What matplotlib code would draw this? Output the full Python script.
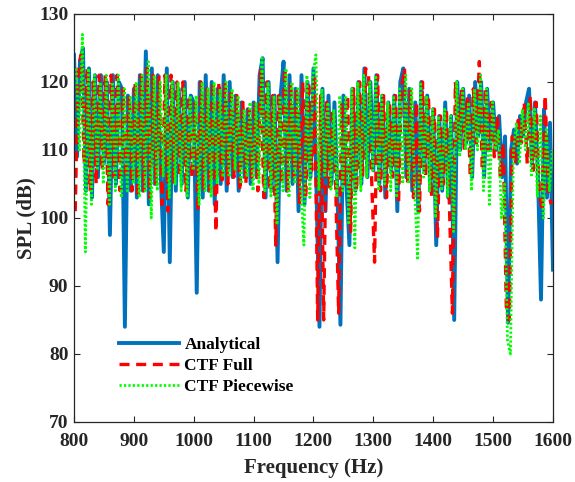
import numpy as np
import matplotlib
matplotlib.use("Agg")
import matplotlib.pyplot as plt

# Frecuencias (Hz) y SPL (dB)
freq_analitico = np.arange(800, 1601, 5)
spl_analitico = [
    124, 109, 123, 125, 104, 122, 103, 121, 106, 121,
    108, 120, 97.5, 121, 105, 120, 119, 84, 118, 104,
    119, 103, 121, 104, 124.5, 102, 122, 105, 121, 106,
    95, 122, 93.5, 120, 104, 119, 105, 120, 103, 118,
    117, 89, 120, 103, 121, 104, 120, 102, 119, 105,
    121, 104, 120, 106, 118, 104, 117, 106, 116, 105,
    117, 106, 121, 123.5, 103, 120, 104, 118, 93.5, 118,
    123, 104, 121, 105, 119, 101, 121, 102, 120, 106,
    122, 104, 84, 119, 101, 118, 105, 117, 104, 84.3,
    118, 105, 96, 119, 104, 120, 105, 122, 106, 120,
    107, 121, 105, 118, 103, 117, 107, 118, 101, 120,
    122, 106, 119, 104, 117, 101, 120, 107, 118, 104,
    116, 96, 115, 104, 117, 103, 115, 85, 120, 110,
    119, 111, 118, 106, 120, 112, 120, 106, 119, 110,
    117, 110, 115, 106, 112, 84.6, 110, 113, 108, 115,
    112, 117, 119, 108, 117, 106, 88, 116, 103, 114,
    92.4,
]

freq_ctf_full = np.arange(802, 1600, 5)
spl_ctf_full = [
    101, 122, 124, 108, 122, 104, 120, 105, 121, 107,
    121, 102, 121, 106, 121, 104, 119, 106, 118, 104,
    120, 103, 121, 104, 122, 103, 121, 105, 121, 102,
    121, 101, 121, 105, 120, 106, 120, 104, 118, 106,
    117, 101, 120, 104, 119, 104, 120, 98, 120, 105,
    120, 105, 119, 106, 118, 104, 117, 105, 116, 106,
    117, 104, 122, 103, 120, 104, 118, 96, 118, 105,
    122, 104, 120, 106, 119, 102, 120, 103, 120, 107,
    121, 85, 118, 85, 117, 104, 116, 105, 86, 117,
    105, 118, 98, 119, 104, 120, 106, 122, 121, 106,
    93.5, 121, 104, 118, 103, 117, 106, 118, 102, 119,
    122, 105, 119, 103, 117, 101, 120, 106, 118, 103,
    116, 97, 115, 105, 116, 102, 86, 120, 111, 119,
    110, 118, 106, 119, 111, 123, 107, 119, 110, 117,
    109, 115, 106, 111, 87, 85, 112, 108, 115, 111,
    117, 108, 118, 107, 117, 104, 101, 118, 104, 102,
]

freq_ctf_piecewise = np.arange(804, 1600, 5)
spl_ctf_piecewise = [
    122, 110, 127, 95, 122, 102, 121, 107, 120, 105,
    121, 102, 120, 104, 121, 103, 119, 104, 118, 105,
    120, 103, 121, 104, 123, 100, 121, 104, 120, 106,
    121, 103, 120, 105, 120, 104, 119, 103, 118, 107,
    118, 102, 120, 104, 119, 103, 120, 105, 119, 106,
    120, 106, 119, 107, 118, 105, 116, 106, 117, 104,
    117, 105, 123.5, 104, 120, 103, 118, 99, 118, 104,
    122, 103, 120, 105, 119, 104, 96, 121, 103, 121,
    124, 104, 119, 106, 117, 104, 116, 103, 118, 104,
    118, 99, 119, 95.6, 120, 104, 121, 106, 120, 107,
    121, 104, 118, 105, 117, 104, 118, 103, 119, 105,
    121, 105, 119, 104, 93.8, 120, 106, 118, 104, 116,
    100, 115, 104, 116, 103, 115, 98, 120, 109, 119,
    110, 117, 104, 119, 110, 121, 104, 119, 102, 117,
    110, 113, 100, 105, 82, 80, 110, 114, 108, 116,
    110, 117, 106, 116, 103, 115, 100, 113, 104, 110,
]

plt.rcParams['font.family'] = ['Liberation Serif', 'DejaVu Serif']
plt.rcParams['font.weight'] = 'bold'

fig = plt.figure(figsize=(5.75, 4.82), dpi=100)
ax = fig.add_axes([0.1287, 0.1245, 0.833, 0.8465])

ax.plot(freq_analitico, spl_analitico, color='#0072BD', lw=2.8, label='Analytical')
ax.plot(freq_ctf_full, spl_ctf_full, color='#FF0000', lw=2.4, ls=(0, (3, 2)), label='CTF Full')
ax.plot(freq_ctf_piecewise, spl_ctf_piecewise, color='#00FF00', lw=2.0, ls=(0, (0.8, 0.8)),
        label='CTF Piecewise')

ax.set_xlim(800, 1600)
ax.set_ylim(70, 130)
ax.set_xticks(range(800, 1601, 100))
ax.set_yticks(range(70, 131, 10))
ax.tick_params(direction='in', top=True, right=True, labelsize=14,
               colors='#262626', length=4, width=0.8)
ax.tick_params(axis='x', pad=8)
ax.tick_params(axis='y', pad=4)
for lbl in ax.get_xticklabels() + ax.get_yticklabels():
    lbl.set_fontweight('bold')
for s in ax.spines.values():
    s.set_color('#262626')
    s.set_linewidth(0.9)

ax.set_xlabel('Frequency (Hz)', fontsize=15, fontweight='bold', color='#262626', labelpad=6)
ax.set_ylabel('SPL (dB)', fontsize=15, fontweight='bold', color='#262626', labelpad=2)

leg = ax.legend(loc='lower left', bbox_to_anchor=(0.062, 0.028), frameon=False,
                prop={'weight': 'bold', 'size': 12.5}, handlelength=3.45,
                handletextpad=0.3, labelspacing=0.27)

fig.savefig('out.png', dpi=100)
